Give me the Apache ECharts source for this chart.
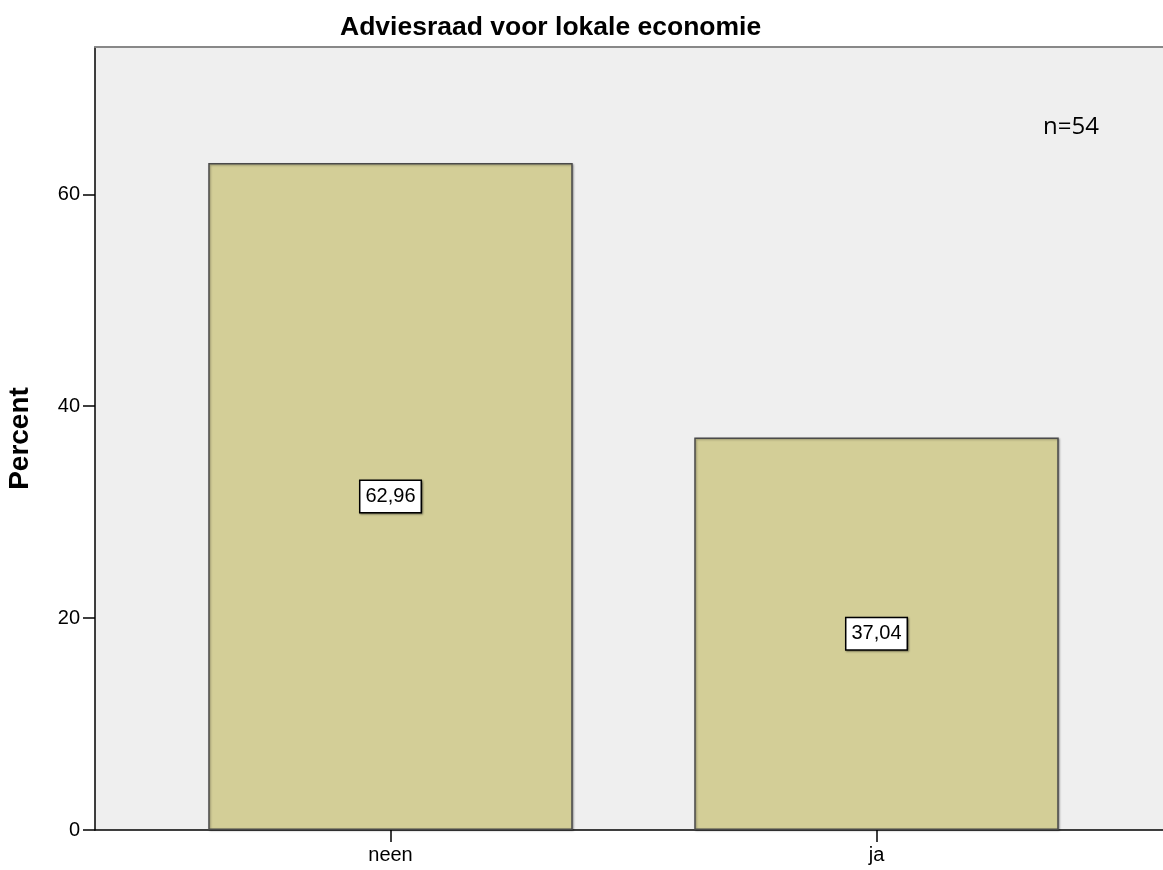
<!DOCTYPE html>
<html>
<head>
<meta charset="utf-8">
<script src="https://cdn.jsdelivr.net/npm/echarts@6/dist/echarts.min.js"></script>
<style>html,body{margin:0;padding:0;background:#fff}#c{width:1163px;height:870px}</style>
</head>
<body>
<div id="c"></div>
<script>
var categories = ['neen', 'ja'];
var percentValues = [62.96, 37.04];
var yTicks = [0, 20, 40, 60];
var titleText = 'Adviesraad voor lokale economie';
var nText = 'n=54';

var chart = echarts.init(document.getElementById('c'), null, {renderer: 'canvas'});
var font = '"Liberation Sans", Arial, sans-serif';
var yMax = 73.9;
chart.setOption({
  animation: false,
  backgroundColor: '#ffffff',
  title: {
    text: titleText, left: 335, top: 9,
    textStyle: {fontFamily: font, fontSize: 26.5, fontWeight: 'bold', color: '#000'}
  },
  graphic: [{
    type: 'text', right: 64, top: 115,
    style: {text: nText, fontFamily: '"Open Sans", "Noto Sans", sans-serif', fontSize: 24, fill: '#000'}
  }],
  grid: [
    {left: 95, right: 0, top: 47, bottom: 40, show: true, backgroundColor: '#efefef', borderWidth: 0,
     containLabel: false, outerBoundsMode: 'none'},
    {left: 147.5, right: 43.5, top: 47, bottom: 40, containLabel: false, outerBoundsMode: 'none'}
  ],
  xAxis: [
    {type: 'value', gridIndex: 0, min: 0, max: 1, position: 'bottom',
     axisLine: {show: true, lineStyle: {color: '#000', width: 1.5}},
     axisTick: {show: false}, axisLabel: {show: false}, splitLine: {show: false}},
    {type: 'value', gridIndex: 0, min: 0, max: 1, position: 'top',
     axisLine: {show: true, lineStyle: {color: '#888', width: 2}},
     axisTick: {show: false}, axisLabel: {show: false}, splitLine: {show: false}},
    {type: 'category', gridIndex: 1, data: categories,
     axisLine: {show: false},
     axisTick: {show: true, alignWithLabel: true, length: 12, lineStyle: {color: '#000', width: 1.5}},
     axisLabel: {fontFamily: font, fontSize: 20, color: '#000', margin: 15}}
  ],
  yAxis: [
    {type: 'value', gridIndex: 0, min: 0, max: yMax, interval: 20,
     name: 'Percent', nameLocation: 'middle', nameGap: 61,
     nameTextStyle: {fontFamily: font, fontSize: 28, fontWeight: 'bold', color: '#000'},
     axisLine: {show: true, lineStyle: {color: '#000', width: 1.5}},
     axisTick: {show: true, length: 12, customValues: yTicks, lineStyle: {color: '#000', width: 1.5}},
     axisLabel: {fontFamily: font, fontSize: 20, color: '#000', margin: 15, customValues: yTicks,
       formatter: function (v) { return yTicks.indexOf(v) >= 0 ? String(v) : ''; }},
     splitLine: {show: false}},
    {type: 'value', gridIndex: 1, min: 0, max: yMax, interval: 20, show: false}
  ],
  series: [{
    type: 'bar', xAxisIndex: 2, yAxisIndex: 1,
    data: percentValues,
    barWidth: '75%',
    itemStyle: {color: '#d3ce97', borderColor: '#4a4a4a', borderWidth: 1.5,
      shadowColor: 'rgba(0,0,0,0.3)', shadowBlur: 2, shadowOffsetX: 1, shadowOffsetY: 1},
    label: {
      show: true, position: 'inside',
      formatter: function (p) { return p.value.toFixed(2).replace('.', ','); },
      fontFamily: font, fontSize: 20, color: '#000',
      backgroundColor: '#fff', borderColor: '#000', borderWidth: 1.5,
      padding: [6, 5, 5, 5],
      shadowColor: 'rgba(0,0,0,0.4)', shadowBlur: 2, shadowOffsetX: 1, shadowOffsetY: 1
    }
  }]
});
</script>
</body>
</html>
